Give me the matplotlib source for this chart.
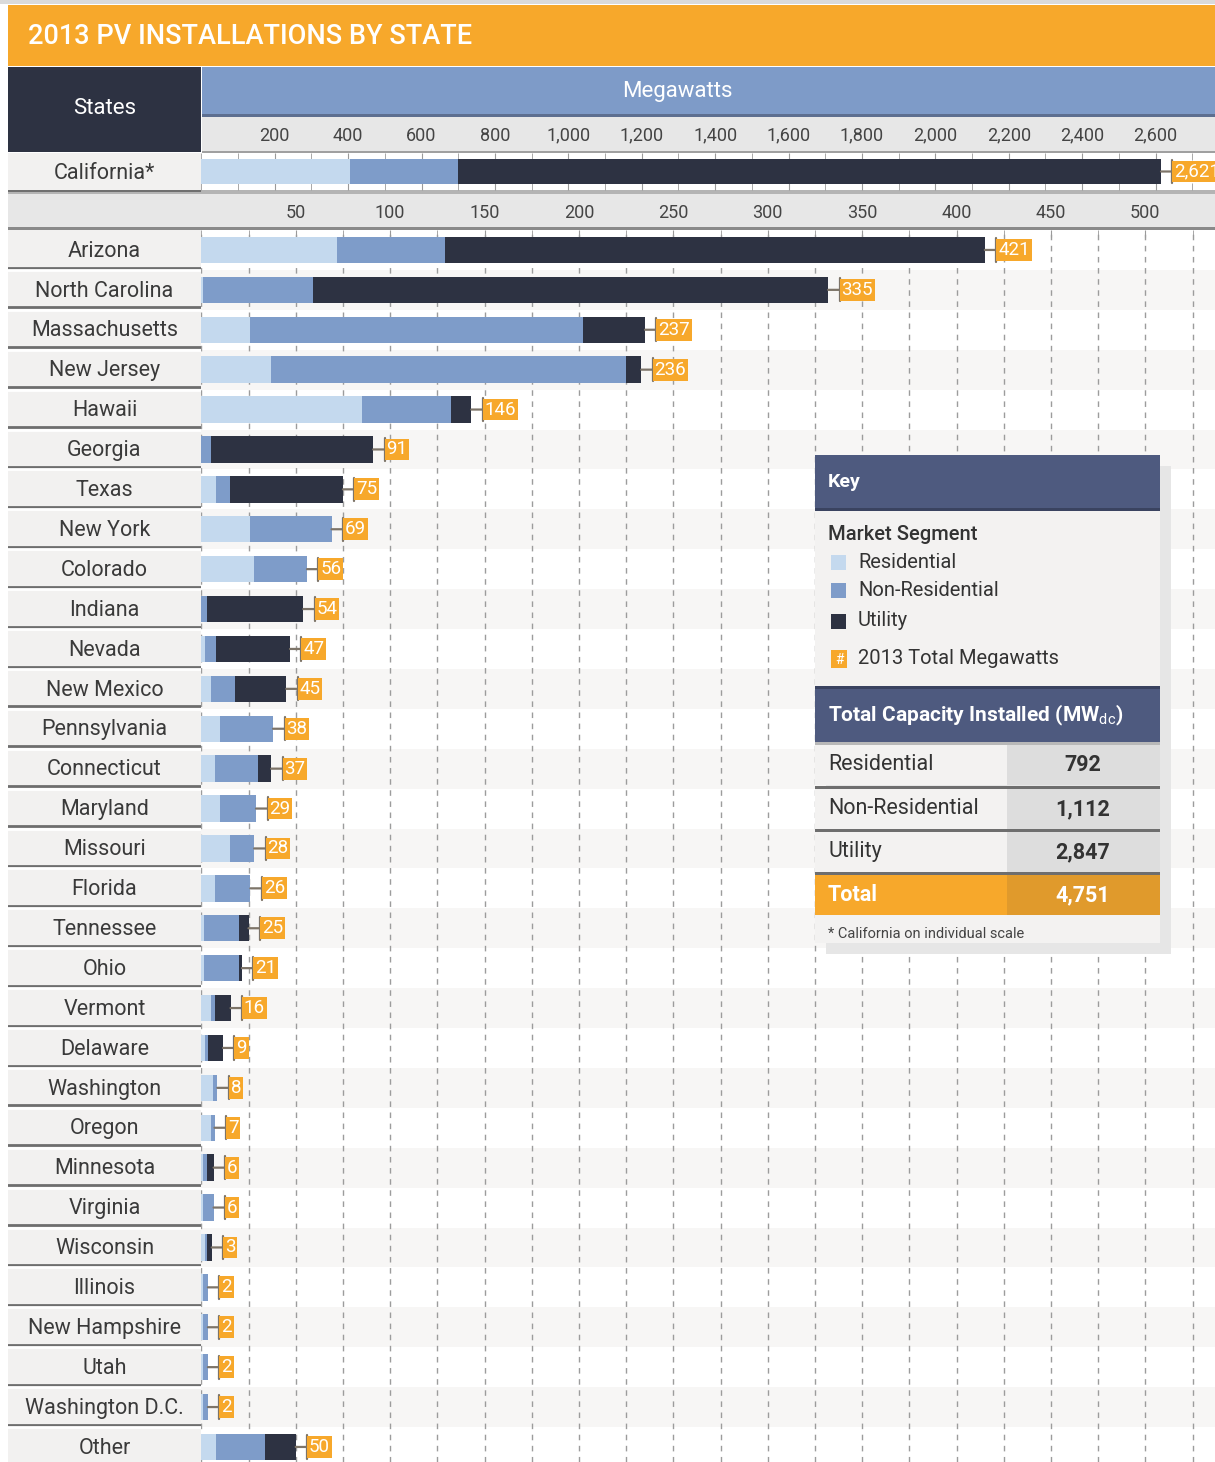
import matplotlib
matplotlib.use('Agg')
import matplotlib.pyplot as plt
from matplotlib.patches import Rectangle
from matplotlib.ticker import MultipleLocator
import numpy as np

plt.rcParams['font.family'] = ['Roboto', 'DejaVu Sans']
plt.rcParams['mathtext.fontset'] = 'custom'
plt.rcParams['mathtext.rm'] = 'Roboto'
plt.rcParams['mathtext.bf'] = 'Roboto:bold'

# ---------------- data ----------------
title = '2013 PV INSTALLATIONS BY STATE'

ca_label = 'California*'
ca_residential = [405]
ca_nonres = [295]
ca_utility = [1915]
ca_total_text = '2,621'
ca_ticks = [200, 400, 600, 800, 1000, 1200, 1400, 1600, 1800, 2000, 2200, 2400, 2600]

states = ['Arizona', 'North Carolina', 'Massachusetts', 'New Jersey', 'Hawaii', 'Georgia',
          'Texas', 'New York', 'Colorado', 'Indiana', 'Nevada', 'New Mexico', 'Pennsylvania',
          'Connecticut', 'Maryland', 'Missouri', 'Florida', 'Tennessee', 'Ohio', 'Vermont',
          'Delaware', 'Washington', 'Oregon', 'Minnesota', 'Virginia', 'Wisconsin', 'Illinois',
          'New Hampshire', 'Utah', 'Washington D.C.', 'Other']
residential = [72, 1, 26, 37, 85, 0, 8, 26, 28, 0, 2, 5, 10, 7, 10, 15, 7, 1.5, 1.5, 5,
               2, 6, 5, 1, 1, 2, 1, 1, 1, 1, 8]
nonres = [57, 58, 176, 188, 47, 5, 7, 43, 28, 3, 6, 13, 28, 23, 19, 13, 19, 18.5, 18.5, 2,
          1.5, 2.5, 2, 2, 5.5, 1, 2.5, 2.5, 2.5, 2.5, 26]
utility = [286, 273, 33, 8, 11, 86, 60, 0, 0, 51, 39, 27, 0, 7, 0, 0, 0, 5, 1.5, 8.5,
           8, 0, 0, 3.5, 0, 2.5, 0, 0, 0, 0, 16]
totals = [421, 335, 237, 236, 146, 91, 75, 69, 56, 54, 47, 45, 38, 37, 29, 28, 26, 25, 21, 16,
          9, 8, 7, 6, 6, 3, 2, 2, 2, 2, 50]
state_ticks = [50, 100, 150, 200, 250, 300, 350, 400, 450, 500]

key_segments = ['Residential', 'Non-Residential', 'Utility']
key_total_text = '2013 Total Megawatts'
table_labels = ['Residential', 'Non-Residential', 'Utility', 'Total']
table_values = ['792', '1,112', '2,847', '4,751']

# ---------------- style ----------------
W, H = 1215, 1462
C_RES = '#C4D9EE'
C_NON = '#7E9CC9'
C_UTL = '#2D3242'
C_ORG = '#F7A82B'
C_ORG_D = '#E09A2C'
C_NAVY = '#4E5A7F'
C_LBL = '#F2F1F0'
C_BAND = '#E7E7E7'
TXT = '#3a3a3a'

fig = plt.figure(figsize=(W / 100, H / 100), dpi=100)


def add_axes_px(x0, y0, x1, y1, **kw):
    return fig.add_axes([x0 / W, 1 - y1 / H, (x1 - x0) / W, (y1 - y0) / H], **kw)


def rect(a, x0, y0, x1, y1, color, z=1):
    a.add_patch(Rectangle((x0, y0), x1 - x0, y1 - y0, fc=color, ec='none', zorder=z))


def value_label(a, text, x, y):
    a.annotate(text, xy=(x, y), xytext=(9.6, 0), textcoords='offset points',
               ha='left', va='center', color='white', fontsize=13.5,
               bbox=dict(boxstyle='square,pad=0.1', fc=C_ORG, ec='none'),
               arrowprops=dict(arrowstyle=']-,widthA=0.62,lengthA=0', color='#7d7468', lw=1.6,
                               shrinkA=0, shrinkB=0),
               annotation_clip=False, zorder=5)


# background / header decorations
bg = fig.add_axes([0, 0, 1, 1], zorder=0)
bg.set_xlim(0, W)
bg.set_ylim(H, 0)
bg.axis('off')
rect(bg, 0, 0, W, 4, '#DADADA')
rect(bg, 8, 5, W, 66, C_ORG)
bg.text(28, 37, title, color='white', fontsize=19.5, fontweight='medium', va='center', ha='left')
rect(bg, 8, 67, 201, 152, C_UTL)
bg.text(105, 108, 'States', color='white', fontsize=16, va='center', ha='center')
rect(bg, 202, 67, W, 115, '#7E9BC8')
rect(bg, 202, 114, W, 117, '#5d6f90')
bg.text(677, 91, 'Megawatts', color='white', fontsize=16, va='center', ha='center')
rect(bg, 202, 117, W, 151, C_BAND)
rect(bg, 202, 151, W, 153, '#A0A0A0')
rect(bg, 8, 190, W, 194, '#B4B4B4')
rect(bg, 8, 190, 201, 192, '#707070')
rect(bg, 8, 194, W, 228, C_BAND)
rect(bg, 8, 227, W, 230, '#8a8a8a')

# ---------------- California row ----------------
PX_CA = 0.367
cal = add_axes_px(8, 153, 201, 190)
cal.set_facecolor(C_LBL)
cal.set_xlim(0, 1)
cal.set_ylim(0.5, -0.5)
cal.set_xticks([])
cal.set_yticks([])
for s in cal.spines.values():
    s.set_visible(False)
cal.text(0.5, 0.05, ca_label, ha='center', va='center', fontsize=15.5, color=TXT)

ca = add_axes_px(201.3, 153, W, 190)
ca.set_facecolor('white')
ca.set_xlim(0, (W - 201.3) / PX_CA)
ca.set_ylim(0.5, -0.5)
ca.barh([0], ca_residential, height=0.7, color=C_RES, zorder=3)
ca.barh([0], ca_nonres, left=ca_residential, height=0.7, color=C_NON, zorder=3)
ca_left = [ca_residential[0] + ca_nonres[0]]
ca.barh([0], ca_utility, left=ca_left, height=0.7, color=C_UTL, zorder=3)
ca_tot = ca_left[0] + ca_utility[0]
ca.set_xticks(ca_ticks)
ca.set_xticklabels([f'{v:,}' for v in ca_ticks])
ca.xaxis.set_minor_locator(MultipleLocator(100))
ca.tick_params(axis='x', which='both', direction='in', length=5, color='#9a9a9a',
               top=True, bottom=True, labeltop=True, labelbottom=False, pad=6,
               labelsize=13, labelcolor='#444444')
ca.set_yticks([])
for s in ca.spines.values():
    s.set_visible(False)
value_label(ca, ca_total_text, ca_tot, 0)

# ---------------- states ----------------
PX = 1.888
ROW = 39.9
n = len(states)
yy = np.arange(n)
ymax = -0.5 + (H - 230) / ROW

lab = add_axes_px(8, 230, 201, H)
lab.set_facecolor(C_LBL)
lab.set_xlim(0, 1)
lab.set_ylim(ymax, -0.5)
lab.set_xticks([])
lab.set_yticks([])
for s in lab.spines.values():
    s.set_visible(False)
for i, name in enumerate(states):
    lab.text(0.5, i + 0.03, name, ha='center', va='center', fontsize=15.5, color=TXT)
    if i < n - 1:
        lab.axhline(i + 0.44, color='#6e6e6e', lw=2)
        lab.axhline(i + 0.5, color='white', lw=2)

ax = add_axes_px(201.3, 230, W, H)
ax.set_facecolor('white')
ax.set_xlim(0, (W - 201.3) / PX)
ax.set_ylim(ymax, -0.5)
for i in range(n):
    if i % 2 == 1:
        ax.axhspan(i - 0.5, i + 0.5, color='#F7F6F5', lw=0, zorder=0)
res = np.array(residential, dtype=float)
non = np.array(nonres, dtype=float)
utl = np.array(utility, dtype=float)
ax.barh(yy, res, height=0.66, color=C_RES, zorder=3)
ax.barh(yy, non, left=res, height=0.66, color=C_NON, zorder=3)
ax.barh(yy, utl, left=res + non, height=0.66, color=C_UTL, zorder=3)
ends = res + non + utl
for i in range(n):
    value_label(ax, str(totals[i]), ends[i], i)
ax.set_xticks(state_ticks)
ax.set_xticklabels([str(v) for v in state_ticks])
ax.xaxis.set_minor_locator(MultipleLocator(25))
ax.grid(axis='x', which='both', color='#9c9c9c', ls=(0, (4, 4)), lw=1)
ax.set_axisbelow(True)
ax.xaxis.tick_top()
ax.tick_params(axis='x', which='both', direction='in', length=5, color='#9a9a9a',
               top=True, bottom=False, labeltop=True, labelbottom=False, pad=6,
               labelsize=13, labelcolor='#444444')
ax.set_yticks([])
for s in ax.spines.values():
    s.set_visible(False)

# ---------------- key box ----------------
ov = fig.add_axes([0, 0, 1, 1], zorder=10)
ov.set_xlim(0, W)
ov.set_ylim(H, 0)
ov.axis('off')
ov.patch.set_alpha(0)
KX0, KX1 = 815, 1160
rect(ov, 826, 466, 1171, 954, '#E6E6E6', z=1)
rect(ov, KX0, 455, KX1, 509, C_NAVY, z=2)
rect(ov, KX0, 508, KX1, 511, '#3a4360', z=2)
ov.text(828, 482, 'Key', color='white', fontsize=14, fontweight='bold', va='center')
rect(ov, KX0, 511, KX1, 688, '#F3F2F1', z=2)
ov.text(828, 534, 'Market Segment', color='#333333', fontsize=14.5, fontweight='medium', va='center')
for (lbl, col, yc) in zip(key_segments, [C_RES, C_NON, C_UTL], [562, 590, 621]):
    rect(ov, 831, yc - 7.5, 846, yc + 7.5, col, z=3)
    ov.text(858, yc, lbl, color='#333333', fontsize=14.5, va='center')
rect(ov, 831, 650, 847, 668, C_ORG, z=3)
ov.text(839, 659.5, '#', color='white', fontsize=10, va='center', ha='center', zorder=4)
ov.text(858, 659, key_total_text, color='#333333', fontsize=14.5, va='center')
rect(ov, KX0, 686, KX1, 742, C_NAVY, z=2)
rect(ov, KX0, 686, KX1, 689, '#3a4360', z=2)
ov.text(828, 715, r'Total Capacity Installed (MW$_{\mathrm{dc}}$)', color='white', fontsize=15,
        fontweight='bold', va='center')
row_tops = [742, 786, 829, 872]
for k, (lbl, val) in enumerate(zip(table_labels, table_values)):
    t0 = row_tops[k]
    t1 = t0 + 43
    last = k == len(table_labels) - 1
    rect(ov, KX0, t0, 1007, t1, C_ORG if last else '#F3F2F1', z=2)
    rect(ov, 1007, t0, KX1, t1, C_ORG_D if last else '#DDDDDD', z=2)
    rect(ov, KX0, t0, KX1, t0 + 2.5, '#6e6e6e' if k > 0 else '#B8B8B8', z=3)
    yc = t0 + 23
    col = 'white' if last else '#333333'
    ov.text(828, yc, lbl, color=col, fontsize=15.5, va='center',
            fontweight='bold' if last else 'normal')
    ov.text(1083, yc, val, color=col, fontsize=15.5, va='center', ha='center', fontweight='bold')
rect(ov, KX0, 915, KX1, 943, '#F3F2F1', z=2)
ov.text(828, 934, '* California on individual scale', color='#444444', fontsize=10.5, va='center')

fig.savefig('out.png', dpi=100)
